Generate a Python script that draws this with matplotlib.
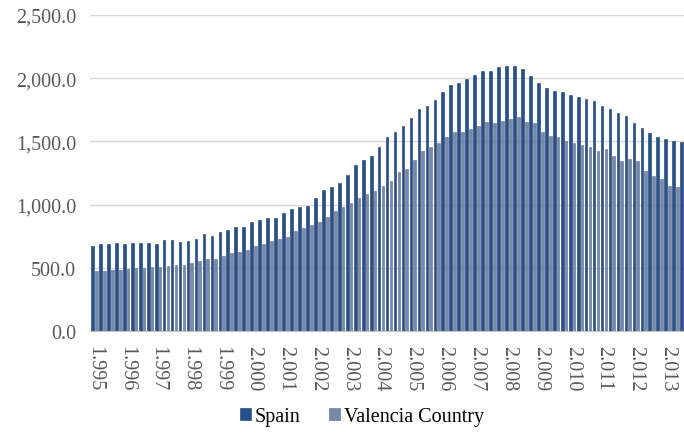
import numpy as np
import matplotlib
matplotlib.use("Agg")
import matplotlib.pyplot as plt
from matplotlib.ticker import FuncFormatter

matplotlib.rcParams.update({'font.size': 14, 'font.family': 'Liberation Serif'})

# quarterly values, 1995 Q1 onwards
spain = [672, 688, 688, 696, 688, 696, 696, 696, 688, 720, 720, 704, 712, 728,
         767, 754, 781, 801, 825, 825, 860, 878, 892, 892, 931, 965, 984, 992,
         1050, 1118, 1142,
         1168, 1234, 1316, 1353, 1382, 1458, 1537, 1572, 1620, 1685, 1756, 1783,
         1828, 1889, 1944,
         1959, 1994, 2028, 2060, 2060, 2091, 2100, 2100, 2073, 2020, 1959, 1922,
         1896, 1888, 1870,
         1850, 1835, 1822, 1783, 1756, 1725, 1699, 1646, 1604, 1564, 1532, 1519,
         1500, 1497]
valencia = [477, 477, 483, 485, 490, 496, 496, 509, 504, 517, 522, 522, 538, 550,
            567, 570, 591, 617, 622, 641, 670, 688, 710, 728, 741, 789, 813, 841,
            860, 900, 952,
            979, 1013, 1052, 1084, 1110, 1145, 1190, 1256, 1282, 1353, 1427, 1454,
            1487, 1537, 1572,
            1572, 1598, 1624, 1651, 1643, 1664, 1677, 1696, 1656, 1643, 1572, 1546,
            1537, 1501, 1485,
            1474, 1454, 1427, 1440, 1382, 1347, 1361, 1342, 1268, 1224, 1203, 1150,
            1142, 1145]
years = list(range(1995, 2014))
year_labels = ["%d.%03d" % (y // 1000, y % 1000) for y in years]

spain_color = '#25508B'
valencia_color = '#7888A8'
grey = '#595959'

fig = plt.figure(figsize=(6.84, 4.35), dpi=100)
ax = fig.add_axes([90 / 684, 103 / 435, 594 / 684, 316 / 435])

X = np.arange(len(spain))
w = 0.34
ax.bar(X - 0.24, spain, width=w, color=spain_color, edgecolor='#1B3A68',
       linewidth=0.4, label="Spain", zorder=3)
ax.bar(X + 0.24, valencia, width=w, color=valencia_color, edgecolor='#5A6C8E',
       linewidth=0.4, label="Valencia Country", zorder=3)

ax.set_xlim(-0.55, 74.05)
ax.set_ylim(0, 2500)
ax.set_yticks(np.arange(0, 2501, 500))
ax.yaxis.set_major_formatter(FuncFormatter(lambda v, p: "{:,.1f}".format(v)))
ax.set_xticks(X[::4])
ax.set_xticklabels(year_labels, rotation=-90)
ax.tick_params(axis='both', length=0, colors=grey, labelsize=14.5)
ax.tick_params(axis='y', pad=10)
ax.tick_params(axis='x', pad=10)

ax.grid(axis='y', color='#D9D9D9', linewidth=1.0, zorder=0)
for s in ['top', 'right', 'left']:
    ax.spines[s].set_visible(False)
ax.spines['bottom'].set_color('#BFBFBF')
ax.spines['bottom'].set_zorder(4)

fig.legend(loc='center', bbox_to_anchor=(362 / 684, 1 - 418 / 435), ncol=2,
           frameon=False, fontsize=14.5, handlelength=0.55, handleheight=0.55,
           handletextpad=0.2, columnspacing=1.4)

plt.savefig("out.png", dpi=100)
